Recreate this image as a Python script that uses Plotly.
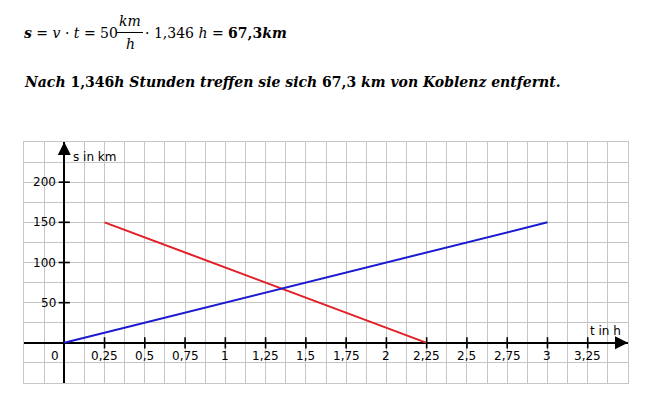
import plotly.graph_objects as go

# ---- data ----
t_red = [0.25, 2.25]
s_red = [150, 0]
t_blue = [0, 3]
s_blue = [0, 150]
x_tickvals = [0.25, 0.5, 0.75, 1, 1.25, 1.5, 1.75, 2, 2.25, 2.5, 2.75, 3, 3.25]
x_ticktext = ["0,25", "0,5", "0,75", "1", "1,25", "1,5", "1,75", "2", "2,25", "2,5", "2,75", "3", "3,25"]
y_tickvals = [50, 100, 150, 200]
y_ticktext = ["50", "100", "150", "200"]

W, H = 648, 408
L, R, T, B = 24, 628, 142, 383  # plot area in pixels
X_RANGE = [-0.25, 3.5]
Y_RANGE = [-50, 250]

def px(x):
    return (x - L) / (R - L)

def py(y):
    return (B - y) / (B - T)

GRID = "#c6c6c6"
FONT_AX = "DejaVu Sans"
SERIF = "DejaVu Serif"
AXFONT = dict(family=FONT_AX, size=12, color="black")

fig = go.Figure()

fig.add_trace(go.Scatter(x=t_red, y=s_red, mode="lines",
                         line=dict(color="#e31e24", width=2), showlegend=False, hoverinfo="skip"))
fig.add_trace(go.Scatter(x=t_blue, y=s_blue, mode="lines",
                         line=dict(color="#1a1ad2", width=2), showlegend=False, hoverinfo="skip"))

# tick marks crossing the axes
fig.add_trace(go.Scatter(x=x_tickvals, y=[0] * len(x_tickvals), mode="markers",
                         marker=dict(symbol="line-ns", size=8, line=dict(color="black", width=1.6)),
                         showlegend=False, hoverinfo="skip", cliponaxis=False))
fig.add_trace(go.Scatter(x=[0] * len(y_tickvals), y=y_tickvals, mode="markers",
                         marker=dict(symbol="line-ew", size=8, line=dict(color="black", width=1.6)),
                         showlegend=False, hoverinfo="skip", cliponaxis=False))

ann = []
# arrow heads at the axis ends
ann.append(dict(x=X_RANGE[1], y=0, xref="x", yref="y", text="", showarrow=True,
                ax=-14, ay=0, arrowhead=2, arrowsize=1.3, arrowwidth=2,
                arrowcolor="black", standoff=0))
ann.append(dict(x=0, y=Y_RANGE[1], xref="x", yref="y", text="", showarrow=True,
                ax=0, ay=14, arrowhead=2, arrowsize=1.3, arrowwidth=2,
                arrowcolor="black", standoff=0))

for v, txt in zip(x_tickvals, x_ticktext):
    ann.append(dict(x=v, y=0, xref="x", yref="y", text=txt, showarrow=False,
                    xanchor="center", yanchor="middle", yshift=-13, font=AXFONT))
for v, txt in zip(y_tickvals, y_ticktext):
    ann.append(dict(x=0, y=v, xref="x", yref="y", text=txt, showarrow=False,
                    xanchor="right", yanchor="middle", xshift=-6, font=AXFONT))
ann.append(dict(x=0, y=0, xref="x", yref="y", text="0", showarrow=False,
                xanchor="right", yanchor="middle", xshift=-3, yshift=-13, font=AXFONT))
ann.append(dict(x=0, y=Y_RANGE[1], xref="x", yref="y", text="s in km", showarrow=False,
                xanchor="left", yanchor="middle", xshift=7, yshift=-15, font=AXFONT))
ann.append(dict(x=X_RANGE[1], y=0, xref="x", yref="y", text="t in h", showarrow=False,
                xanchor="right", yanchor="middle", xshift=-5, yshift=12, font=AXFONT))

# heading text
ann.append(dict(x=px(22), y=py(33), xref="paper", yref="paper", showarrow=False,
                xanchor="left", yanchor="middle",
                text="<b><i>s</i></b> = <i>v</i> · <i>t</i> = 50",
                font=dict(family=SERIF, size=14, color="black")))
ann.append(dict(x=px(130), y=py(21), xref="paper", yref="paper", showarrow=False,
                xanchor="center", yanchor="middle", text="<i>km</i>",
                font=dict(family=SERIF, size=14, color="black")))
ann.append(dict(x=px(130), y=py(44), xref="paper", yref="paper", showarrow=False,
                xanchor="center", yanchor="middle", text="<i>h</i>",
                font=dict(family=SERIF, size=14, color="black")))
ann.append(dict(x=px(143), y=py(33), xref="paper", yref="paper", showarrow=False,
                xanchor="left", yanchor="middle",
                text="· 1,346 <i>h</i> = <b>67,3<i>km</i></b>",
                font=dict(family=SERIF, size=14, color="black")))
ann.append(dict(x=px(22), y=py(82), xref="paper", yref="paper", showarrow=False,
                xanchor="left", yanchor="middle",
                text="<b><i>Nach</i> 1,346<i>h Stunden treffen sie sich</i> 67,3 <i>km von Koblenz entfernt</i>.</b>",
                font=dict(family=SERIF, size=14, color="black")))

shapes = [dict(type="line", xref="paper", yref="paper", x0=px(117), x1=px(143),
               y0=py(32.5), y1=py(32.5), line=dict(color="black", width=1))]

fig.update_layout(
    width=W, height=H,
    margin=dict(l=L, r=W - R, t=T, b=H - B, pad=0),
    paper_bgcolor="white", plot_bgcolor="white",
    annotations=ann, shapes=shapes,
    xaxis=dict(range=X_RANGE, tick0=0, dtick=0.25, showticklabels=False, ticks="",
               showgrid=True, gridcolor=GRID, gridwidth=1,
               minor=dict(tick0=0, dtick=0.125, showgrid=True, gridcolor=GRID, gridwidth=1),
               zeroline=True, zerolinecolor="black", zerolinewidth=2,
               showline=True, linecolor=GRID, linewidth=1, mirror=True, fixedrange=True),
    yaxis=dict(range=Y_RANGE, tick0=0, dtick=50, showticklabels=False, ticks="",
               showgrid=True, gridcolor=GRID, gridwidth=1,
               minor=dict(tick0=0, dtick=25, showgrid=True, gridcolor=GRID, gridwidth=1),
               zeroline=True, zerolinecolor="black", zerolinewidth=2,
               showline=True, linecolor=GRID, linewidth=1, mirror=True, fixedrange=True),
    showlegend=False,
)

fig.write_html("out.html", config={"displayModeBar": False},
               post_script="document.body.style.margin='0';document.body.style.overflow='hidden';")
